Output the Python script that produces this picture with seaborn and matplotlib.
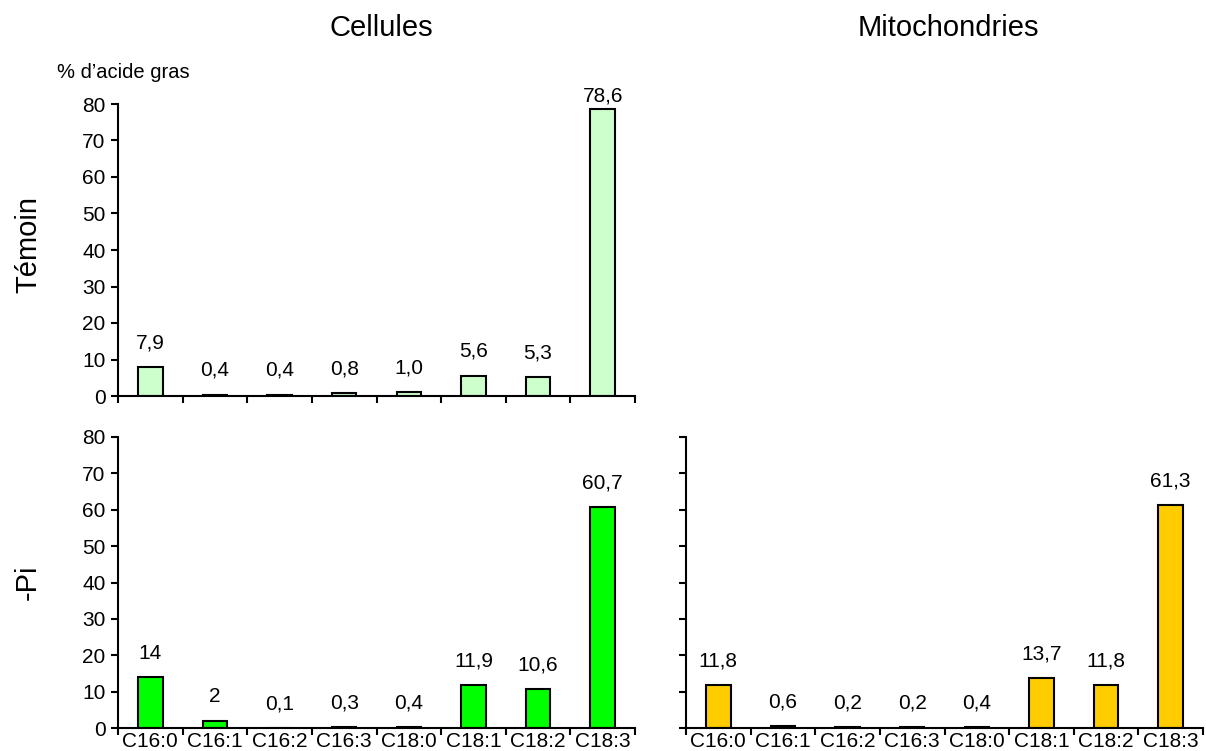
import matplotlib
matplotlib.use('Agg')
import matplotlib.pyplot as plt
import seaborn as sns

# fatty acid categories
acides = ['C16:0', 'C16:1', 'C16:2', 'C16:3', 'C18:0', 'C18:1', 'C18:2', 'C18:3']

# % of fatty acid per condition
cellules_temoin = [7.9, 0.4, 0.4, 0.8, 1.0, 5.6, 5.3, 78.6]
cellules_pi = [14, 2, 0.1, 0.3, 0.4, 11.9, 10.6, 60.7]
mito_pi = [11.8, 0.6, 0.2, 0.2, 0.4, 13.7, 11.8, 61.3]

# labels as printed on the bars
lab_cellules_temoin = ['7,9', '0,4', '0,4', '0,8', '1,0', '5,6', '5,3', '78,6']
lab_cellules_pi = ['14', '2', '0,1', '0,3', '0,4', '11,9', '10,6', '60,7']
lab_mito_pi = ['11,8', '0,6', '0,2', '0,2', '0,4', '13,7', '11,8', '61,3']

y_ticks = [0, 10, 20, 30, 40, 50, 60, 70, 80]

sns.set_style('ticks', {'axes.edgecolor': 'black', 'text.color': 'black',
                        'xtick.color': 'black', 'ytick.color': 'black'})
plt.rcParams['font.family'] = ['Liberation Sans', 'DejaVu Sans']

W, H = 1206, 751
fig = plt.figure(figsize=(W / 100, H / 100), dpi=100)


def box(x0, y0, x1, y1):
    # pixel box -> figure fraction
    return [x0 / W, 1 - y1 / H, (x1 - x0) / W, (y1 - y0) / H]


def panel(rect, values, labels, color, show_ylabels=True, show_xlabels=True):
    ax = fig.add_axes(rect)
    sns.barplot(x=acides, y=values, ax=ax, color=color, edgecolor='black',
                linewidth=1.5, width=0.38, saturation=1)
    ax.set_xlim(-0.5, len(acides) - 0.5)
    ax.set_ylim(0, 80)
    ax.set_yticks(y_ticks)
    sns.despine(ax=ax)
    for s in ['left', 'bottom']:
        ax.spines[s].set_linewidth(1.5)
        ax.spines[s].set_color('black')
    ax.tick_params(axis='y', direction='out', length=5, width=1.5, labelsize=15,
                   pad=4, colors='black')
    ax.tick_params(axis='x', which='major', length=0, labelsize=15, pad=3,
                   colors='black')
    ax.set_xticks([i - 0.5 for i in range(len(acides) + 1)], minor=True)
    ax.tick_params(axis='x', which='minor', direction='out', length=5, width=1.5,
                   colors='black')
    if not show_ylabels:
        ax.set_yticklabels([])
    if not show_xlabels:
        ax.set_xticklabels([])
    ax.set_xlabel('')
    ax.set_ylabel('')
    for i, (v, t) in enumerate(zip(values, labels)):
        ax.text(i, min(v + 6.6, 82.3), t, ha='center', va='center',
                fontsize=15, color='black', clip_on=False)
    return ax


panel(box(118, 104, 635, 396), cellules_temoin, lab_cellules_temoin,
      '#CCFFCC', show_xlabels=False)
panel(box(118, 437, 635, 728), cellules_pi, lab_cellules_pi, '#00FF00')
panel(box(686, 437, 1203, 728), mito_pi, lab_mito_pi, '#FFCC00',
      show_ylabels=False)

fig.text(381 / W, 1 - 28 / H, 'Cellules', ha='center', va='center', fontsize=21)
fig.text(948 / W, 1 - 28 / H, 'Mitochondries', ha='center', va='center', fontsize=21)
fig.text(28 / W, 1 - 245 / H, 'Témoin', ha='center', va='center',
         rotation=90, fontsize=21)
fig.text(28 / W, 1 - 582 / H, '-Pi', ha='center', va='center',
         rotation=90, fontsize=21)
fig.text(57 / W, 1 - 73 / H, '% d’acide gras', ha='left', va='center', fontsize=14.5)

fig.savefig('out.png', dpi=100)
